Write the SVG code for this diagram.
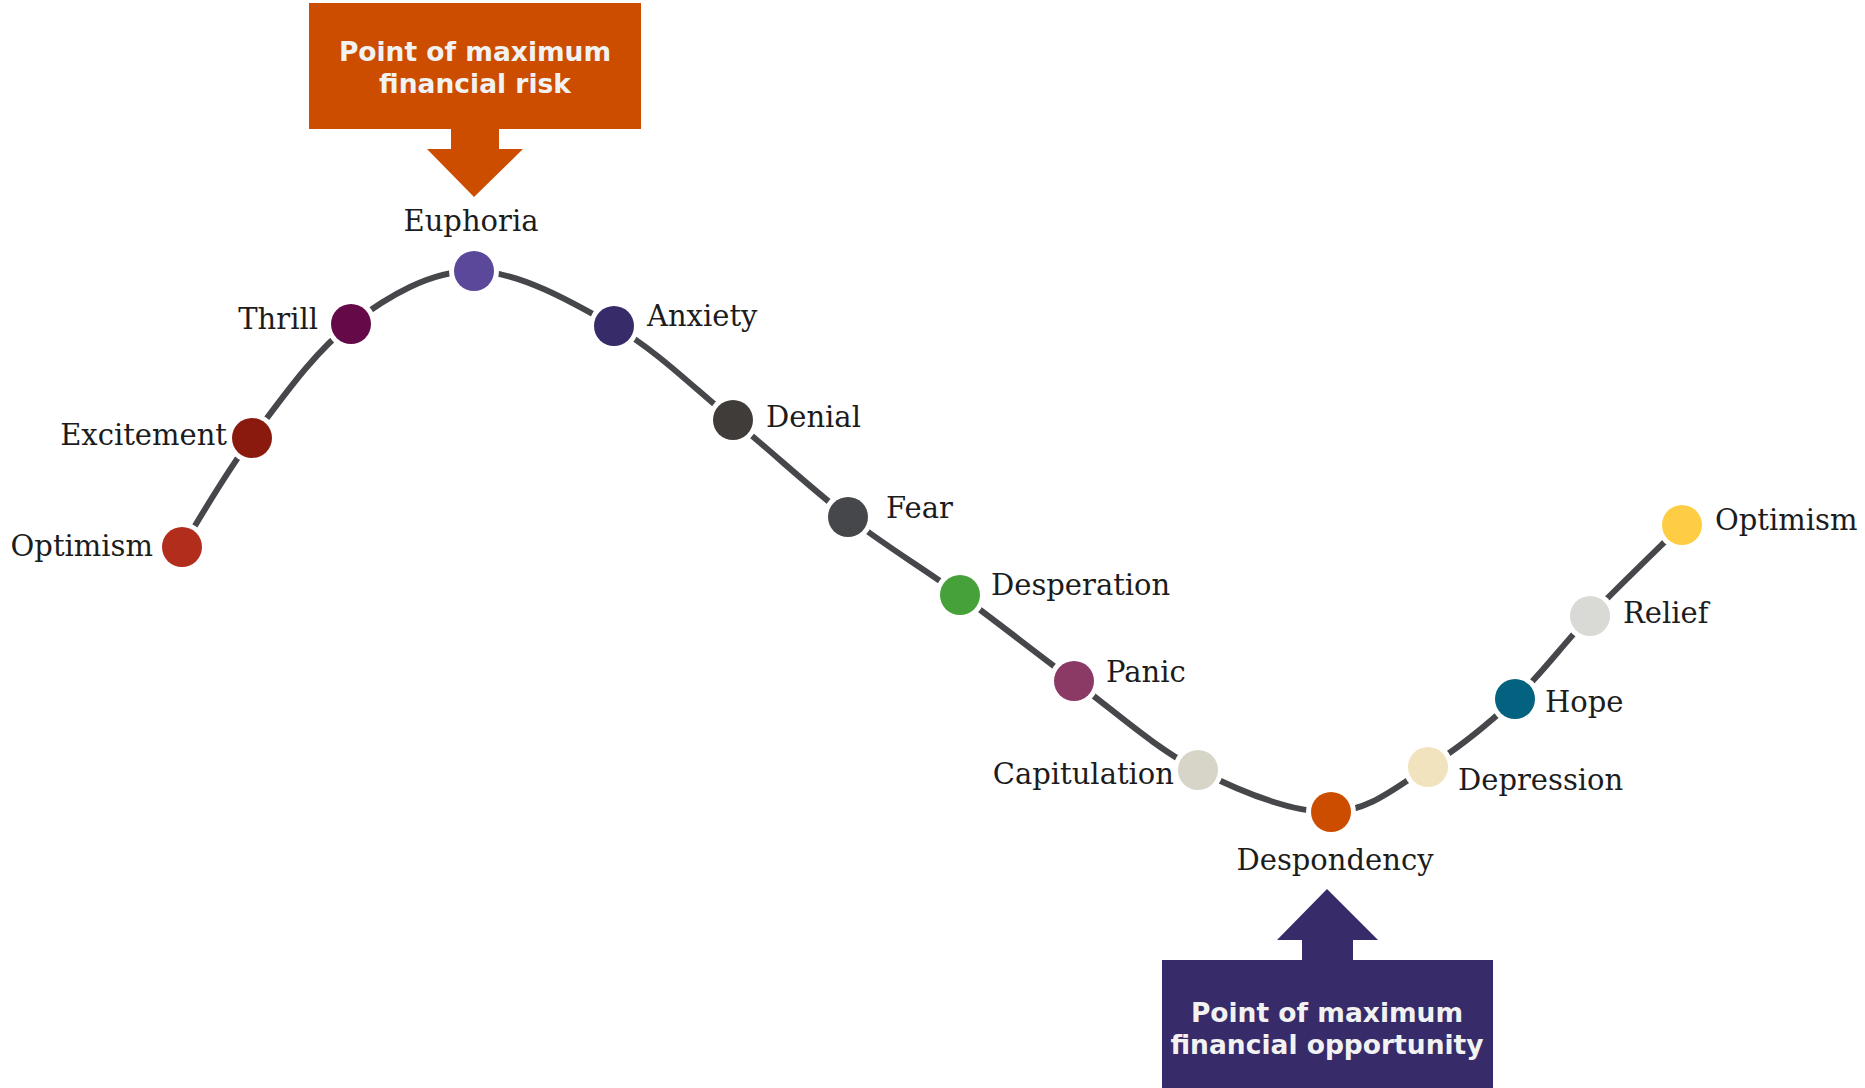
<svg xmlns="http://www.w3.org/2000/svg" width="1865" height="1088" viewBox="0 0 1865 1088">
  <style>
    .lbl { font-family: "DejaVu Serif", "Liberation Serif", serif; font-size: 29px; fill: #1c1c1c; }
    .call { font-family: "DejaVu Sans", Verdana, sans-serif; font-weight: bold; font-size: 26.5px; fill: #f2f2f2; text-anchor: middle; }
    .halo { fill: #ffffff; }
    .curve { fill: none; stroke: #46474B; stroke-width: 6; }
  </style>
  <rect width="1865" height="1088" fill="#ffffff"/>

  <!-- callout: peak -->
  <g id="risk-callout">
    <path d="M309,3 H641 V129 H499 V149 H523 L474,197 L427,149 H451 V129 H309 Z" fill="#CD4D00"/>
    <text class="call" x="475" y="61">Point of maximum</text>
    <text class="call" x="475" y="93">financial risk</text>
  </g>

  <!-- callout: trough -->
  <g id="opportunity-callout">
    <path d="M1162,960 H1302 V940 H1277 L1327,889 L1378,940 H1353 V960 H1493 V1088 H1162 Z" fill="#372B69"/>
    <text class="call" x="1327" y="1022">Point of maximum</text>
    <text class="call" x="1327" y="1054">financial opportunity</text>
  </g>

  <!-- market cycle curve -->
  <g id="connectors">
    <path class="curve" d="M182,547 C193.7,528.8 223.8,475.2 252,438 C280.2,400.8 314,351.8 351,324 C388,296.2 430.2,270.7 474,271 C517.8,271.3 570.8,301.2 614,326 C657.2,350.8 694,388.2 733,420 C772,451.8 810.2,487.8 848,517 C885.8,546.2 922.3,567.7 960,595 C997.7,622.3 1034.3,651.8 1074,681 C1113.7,710.2 1155.2,748.2 1198,770 C1240.8,791.8 1292.7,812.5 1331,812 C1369.3,811.5 1397.3,785.8 1428,767 C1458.7,748.2 1488,724.2 1515,699 C1542,673.8 1562.2,645 1590,616 C1617.8,587 1666.7,540.2 1682,525"/>
  </g>

  <g id="optimism-start">
    <circle class="halo" cx="182" cy="547" r="25"/>
    <circle cx="182" cy="547" r="20" fill="#B22D1B"/>
    <text class="lbl" x="153" y="556" text-anchor="end">Optimism</text>
  </g>
  <g id="excitement">
    <circle class="halo" cx="252" cy="438" r="25"/>
    <circle cx="252" cy="438" r="20" fill="#8B1A0E"/>
    <text class="lbl" x="227" y="445" text-anchor="end">Excitement</text>
  </g>
  <g id="thrill">
    <circle class="halo" cx="351" cy="324" r="25"/>
    <circle cx="351" cy="324" r="20" fill="#640A48"/>
    <text class="lbl" x="318" y="329" text-anchor="end">Thrill</text>
  </g>
  <g id="euphoria">
    <circle class="halo" cx="474" cy="271" r="25"/>
    <circle cx="474" cy="271" r="20" fill="#5B489A"/>
    <text class="lbl" x="471" y="231" text-anchor="middle">Euphoria</text>
  </g>
  <g id="anxiety">
    <circle class="halo" cx="614" cy="326" r="25"/>
    <circle cx="614" cy="326" r="20" fill="#372B69"/>
    <text class="lbl" x="647" y="326">Anxiety</text>
  </g>
  <g id="denial">
    <circle class="halo" cx="733" cy="420" r="25"/>
    <circle cx="733" cy="420" r="20" fill="#403C39"/>
    <text class="lbl" x="766" y="427">Denial</text>
  </g>
  <g id="fear">
    <circle class="halo" cx="848" cy="517" r="25"/>
    <circle cx="848" cy="517" r="20" fill="#46474B"/>
    <text class="lbl" x="886" y="518">Fear</text>
  </g>
  <g id="desperation">
    <circle class="halo" cx="960" cy="595" r="25"/>
    <circle cx="960" cy="595" r="20" fill="#47A13A"/>
    <text class="lbl" x="991" y="595">Desperation</text>
  </g>
  <g id="panic">
    <circle class="halo" cx="1074" cy="681" r="25"/>
    <circle cx="1074" cy="681" r="20" fill="#8B3A66"/>
    <text class="lbl" x="1106" y="682">Panic</text>
  </g>
  <g id="capitulation">
    <circle class="halo" cx="1198" cy="770" r="25"/>
    <circle cx="1198" cy="770" r="20" fill="#D7D4C8"/>
    <text class="lbl" x="1174" y="784" text-anchor="end">Capitulation</text>
  </g>
  <g id="despondency">
    <circle class="halo" cx="1331" cy="812" r="25"/>
    <circle cx="1331" cy="812" r="20" fill="#CD4D00"/>
    <text class="lbl" x="1335" y="870" text-anchor="middle">Despondency</text>
  </g>
  <g id="depression">
    <circle class="halo" cx="1428" cy="767" r="25"/>
    <circle cx="1428" cy="767" r="20" fill="#F2E3BF"/>
    <text class="lbl" x="1458" y="790">Depression</text>
  </g>
  <g id="hope">
    <circle class="halo" cx="1515" cy="699" r="25"/>
    <circle cx="1515" cy="699" r="20" fill="#02627F"/>
    <text class="lbl" x="1545" y="712">Hope</text>
  </g>
  <g id="relief">
    <circle class="halo" cx="1590" cy="616" r="25"/>
    <circle cx="1590" cy="616" r="20" fill="#D9DAD6"/>
    <text class="lbl" x="1623" y="623">Relief</text>
  </g>
  <g id="optimism-end">
    <circle class="halo" cx="1682" cy="525" r="25"/>
    <circle cx="1682" cy="525" r="20" fill="#FFCD44"/>
    <text class="lbl" x="1715" y="530">Optimism</text>
  </g>
</svg>
